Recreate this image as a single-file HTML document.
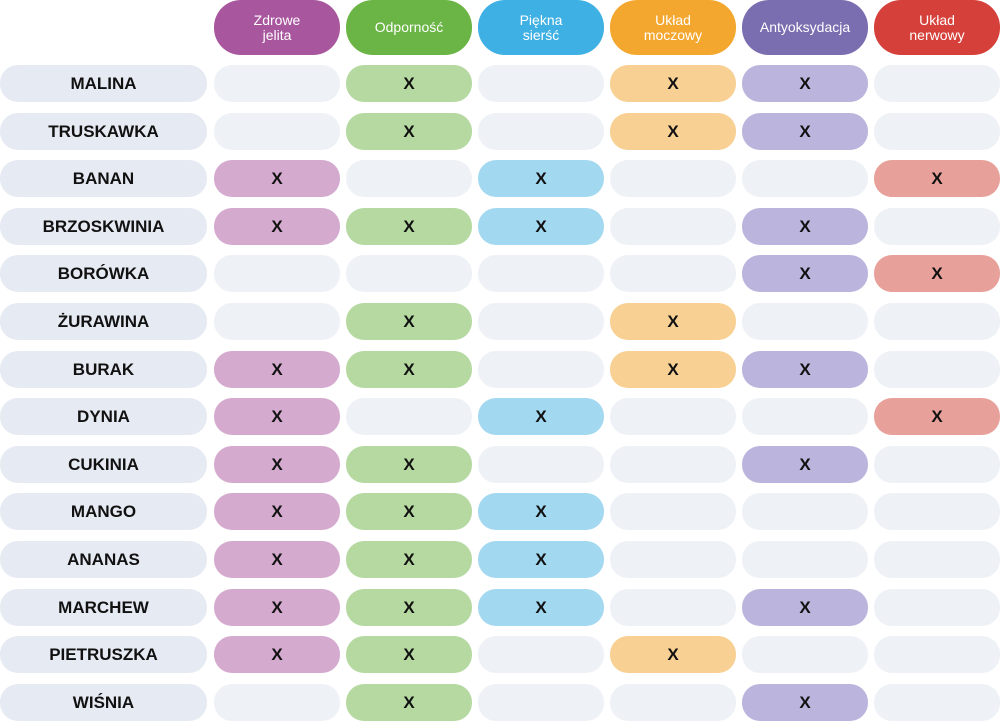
<!DOCTYPE html>
<html><head><meta charset="utf-8"><style>
body{margin:0;width:1000px;height:720px;background:#fff;position:relative;overflow:hidden;font-family:"Liberation Sans",sans-serif}
.h{position:absolute;top:0;height:55px;width:126px;border-radius:27px;color:#fff;font-size:14px;line-height:15px;display:flex;align-items:center;justify-content:center;text-align:center}
.c{position:absolute;height:37px;width:126px;border-radius:18px;background:#eef1f6;display:flex;align-items:center;justify-content:center;font-weight:bold;font-size:17px;color:#111}
.l{position:absolute;left:0;width:207px;height:37px;border-radius:18px;background:#e6eaf2;display:flex;align-items:center;justify-content:center;font-weight:bold;font-size:17px;color:#111}
</style></head><body>
<div id="g"></div>
<script>
var xs=[214,346,478,610,742,874];
var hc=['#a8569e','#6ab545','#3fb0e3','#f4a72f','#7a6db0','#d5413a'];
var cc=['#d5aacf','#b5d9a1','#a3d8f1','#f8d093','#bbb4dc','#e8a09a'];
var hn=['Zdrowe<br>jelita','Odporność','Piękna<br>sierść','Układ<br>moczowy','Antyoksydacja','Układ<br>nerwowy'];
var rows=[['MALINA',[2,4,5]],['TRUSKAWKA',[2,4,5]],['BANAN',[1,3,6]],['BRZOSKWINIA',[1,2,3,5]],['BORÓWKA',[5,6]],['ŻURAWINA',[2,4]],['BURAK',[1,2,4,5]],['DYNIA',[1,3,6]],['CUKINIA',[1,2,5]],['MANGO',[1,2,3]],['ANANAS',[1,2,3]],['MARCHEW',[1,2,3,5]],['PIETRUSZKA',[1,2,4]],['WIŚNIA',[2,5]]];
var h='';
for(var j=0;j<6;j++)h+='<div class="h" style="left:'+xs[j]+'px;background:'+hc[j]+'">'+hn[j]+'</div>';
rows.forEach(function(r,i){var t=Math.round(65+i*47.6);
h+='<div class="l" style="top:'+t+'px">'+r[0]+'</div>';
for(var j=0;j<6;j++){var on=r[1].indexOf(j+1)>=0;
h+='<div class="c" style="left:'+xs[j]+'px;top:'+t+'px;'+(on?'background:'+cc[j]:'')+'">'+(on?'X':'')+'</div>';}});
document.getElementById('g').innerHTML=h;
</script>
</body></html>
